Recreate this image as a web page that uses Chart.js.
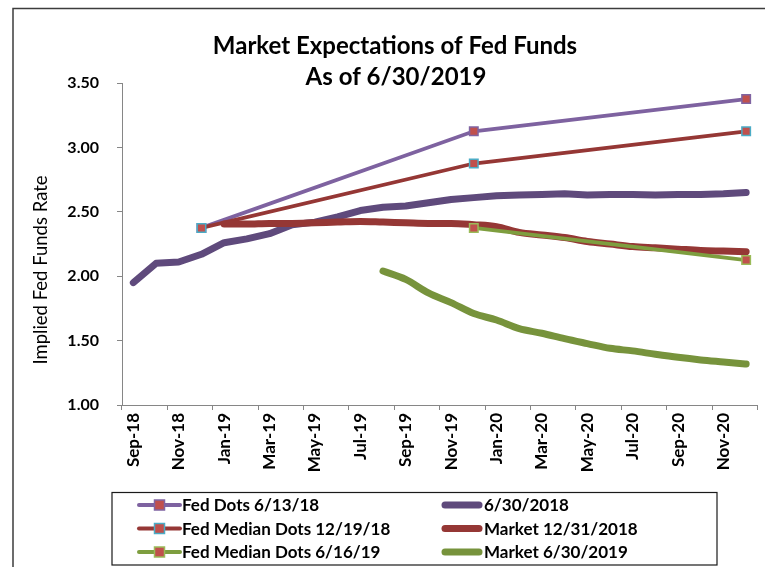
<!DOCTYPE html>
<html>
<head>
<meta charset="utf-8">
<script src="https://cdn.jsdelivr.net/npm/chart.js@4/dist/chart.umd.min.js"></script>
<style>
  html, body { margin: 0; padding: 0; background: #fff; }
  #wrap { width: 765px; height: 567px; position: relative; }
</style>
</head>
<body>
<div id="wrap"><canvas id="c" width="765" height="567"></canvas></div>
<script>
// ---- data ----
const months = ['Sep-18','Oct-18','Nov-18','Dec-18','Jan-19','Feb-19','Mar-19','Apr-19','May-19','Jun-19','Jul-19','Aug-19',
  'Sep-19','Oct-19','Nov-19','Dec-19','Jan-20','Feb-20','Mar-20','Apr-20','May-20','Jun-20','Jul-20','Aug-20','Sep-20','Oct-20','Nov-20','Dec-20'];
const N = null;
const fedDots061318 =      [N,N,N,2.375, N,N,N,N,N,N,N,N,N,N,N, 3.125, N,N,N,N,N,N,N,N,N,N,N, 3.375];
const fedMedian121918 =    [N,N,N,2.375, N,N,N,N,N,N,N,N,N,N,N, 2.875, N,N,N,N,N,N,N,N,N,N,N, 3.125];
const fedMedian061619 =    [N,N,N,N, N,N,N,N,N,N,N,N,N,N,N, 2.375, N,N,N,N,N,N,N,N,N,N,N, 2.125];
const market063018 = [1.95,2.10,2.11,2.17,2.26,2.29,2.33,2.40,2.42,2.46,2.51,2.535,2.545,2.57,2.595,2.61,2.625,2.63,2.635,2.64,2.63,2.635,2.635,2.63,2.635,2.635,2.64,2.65];
const market123118 = [N,N,N,N,2.405,2.405,2.41,2.41,2.415,2.42,2.425,2.42,2.415,2.41,2.41,2.40,2.385,2.34,2.32,2.30,2.27,2.25,2.23,2.22,2.21,2.20,2.195,2.19];
const market063019 = [N,N,N,N,N,N,N,N,N,N,N,2.04,1.975,1.87,1.795,1.71,1.66,1.593,1.557,1.515,1.477,1.44,1.42,1.394,1.37,1.35,1.334,1.318];
const seriesNames = ['Fed Dots 6/13/18','6/30/2018','Fed Median Dots 12/19/18','Market 12/31/2018','Fed Median Dots 6/16/19','Market 6/30/2019'];
const yTicks = [1.00, 1.50, 2.00, 2.50, 3.00, 3.50];
const titleLines = ['Market Expectations of Fed Funds', 'As of 6/30/2019'];
const yAxisTitle = 'Implied Fed Funds Rate';

// ---- styles ----
const FONT = 'Lato, "Open Sans", sans-serif';
const AXIS = '#868686';
const MARK_FILL = '#C0504D';

function thin(label, data, color, markBorder, order) {
  return { label, data, borderColor: color, backgroundColor: color, borderWidth: 3.8, spanGaps: true,
    pointStyle: 'rect', pointRadius: 6, pointHoverRadius: 6, pointBackgroundColor: MARK_FILL,
    pointBorderColor: markBorder, pointBorderWidth: 1.5, tension: 0, order, _thin: true };
}
function thick(label, data, color, order, tension) {
  return { label, data, borderColor: color, backgroundColor: color, borderWidth: 7, spanGaps: false,
    pointRadius: 0, pointHoverRadius: 0, borderCapStyle: 'round', borderJoinStyle: 'round',
    cubicInterpolationMode: tension ? 'monotone' : 'default', tension: 0, order };
}

const datasets = [
  thin(seriesNames[0], fedDots061318, '#7E62A0', '#8064A2', 6),
  thick(seriesNames[1], market063018, '#5F4A7C', 5, false),
  thin(seriesNames[2], fedMedian121918, '#953735', '#4BACC6', 4),
  thick(seriesNames[3], market123118, '#953735', 3, true),
  thin(seriesNames[4], fedMedian061619, '#7E9E3F', '#9BBB59', 2),
  thick(seriesNames[5], market063019, '#77933C', 1, true)
];

const decor = {
  id: 'decor',
  beforeDraw(chart) {
    const ctx = chart.ctx;
    ctx.save();
    ctx.fillStyle = '#fff';
    ctx.fillRect(0, 0, chart.width, chart.height);
    ctx.strokeStyle = '#3c3c3c';
    ctx.lineWidth = 1.5;
    ctx.strokeRect(13, 8.5, 900, 700);
    ctx.restore();
  },
  afterDraw(chart) {
    const ctx = chart.ctx;
    ctx.save();
    // title
    ctx.fillStyle = '#000';
    ctx.textAlign = 'center';
    ctx.textBaseline = 'middle';
    ctx.font = 'bold 24px ' + FONT;
    ctx.fillText(titleLines[0], 395, 46);
    ctx.fillText(titleLines[1], 396, 77);
    // y axis title
    ctx.save();
    ctx.translate(41, 270);
    ctx.rotate(-Math.PI / 2);
    ctx.font = '18.5px ' + FONT;
    ctx.fillText(yAxisTitle, 0, 0);
    ctx.restore();
    // legend
    ctx.strokeStyle = '#1a1a1a';
    ctx.lineWidth = 1.2;
    ctx.strokeRect(112, 492.5, 605, 72.5);
    const rows = [505, 528.5, 552];
    const cols = [{x0: 139, x1: 180, tx: 182}, {x0: 442, x1: 482, tx: 484}];
    ctx.font = 'bold 17px ' + FONT;
    ctx.textAlign = 'left';
    chart.data.datasets.forEach((ds, i) => {
      const col = cols[i % 2], y = rows[Math.floor(i / 2)];
      ctx.beginPath();
      ctx.lineCap = 'round';
      ctx.strokeStyle = ds.borderColor;
      ctx.lineWidth = ds._thin ? 4 : 7;
      ctx.moveTo(col.x0 + (ds._thin ? 0 : 3), y);
      ctx.lineTo(col.x1 - (ds._thin ? 0 : 3), y);
      ctx.stroke();
      if (ds._thin) {
        const cx = (col.x0 + col.x1) / 2, s = 10;
        ctx.fillStyle = MARK_FILL;
        ctx.fillRect(cx - s / 2, y - s / 2, s, s);
        ctx.lineWidth = 1.5;
        ctx.strokeStyle = ds.pointBorderColor;
        ctx.strokeRect(cx - s / 2, y - s / 2, s, s);
      }
      ctx.fillStyle = '#000';
      ctx.fillText(ds.label, col.tx, y + 1);
    });
    ctx.restore();
  }
};

new Chart(document.getElementById('c'), {
  type: 'line',
  data: { labels: months, datasets },
  options: {
    responsive: false,
    animation: false,
    events: [],
    layout: { padding: { top: 83, left: 0, right: 6.7, bottom: 0 } },
    plugins: { legend: { display: false }, title: { display: false }, tooltip: { enabled: false } },
    scales: {
      x: {
        type: 'category',
        offset: true,
        afterFit: s => { s.height = 162; s.paddingLeft = 0; s.paddingRight = 0; },
        grid: { offset: true, drawOnChartArea: false, tickLength: 5,
          tickColor: c => (c.index === undefined || c.index % 2 === 0) ? AXIS : 'rgba(0,0,0,0)' },
        border: { color: AXIS, width: 1 },
        ticks: { autoSkip: false, minRotation: 90, maxRotation: 90, padding: 3, color: '#000',
          font: { family: FONT, size: 17, weight: 'bold' },
          callback: function(v, i) { return i % 2 === 0 ? this.getLabelForValue(v) : ''; } }
      },
      y: {
        min: 1, max: 3.5,
        afterFit: s => { s.width = 122; },
        afterBuildTicks: s => { s.ticks = yTicks.map(v => ({ value: v })); },
        grid: { drawOnChartArea: false, tickLength: 5, color: AXIS },
        border: { color: AXIS, width: 1 },
        ticks: { padding: 18, color: '#000', font: { family: FONT, size: 16, weight: 'bold' },
          callback: v => Number(v).toFixed(2) }
      }
    }
  },
  plugins: [decor]
});
</script>
</body>
</html>
